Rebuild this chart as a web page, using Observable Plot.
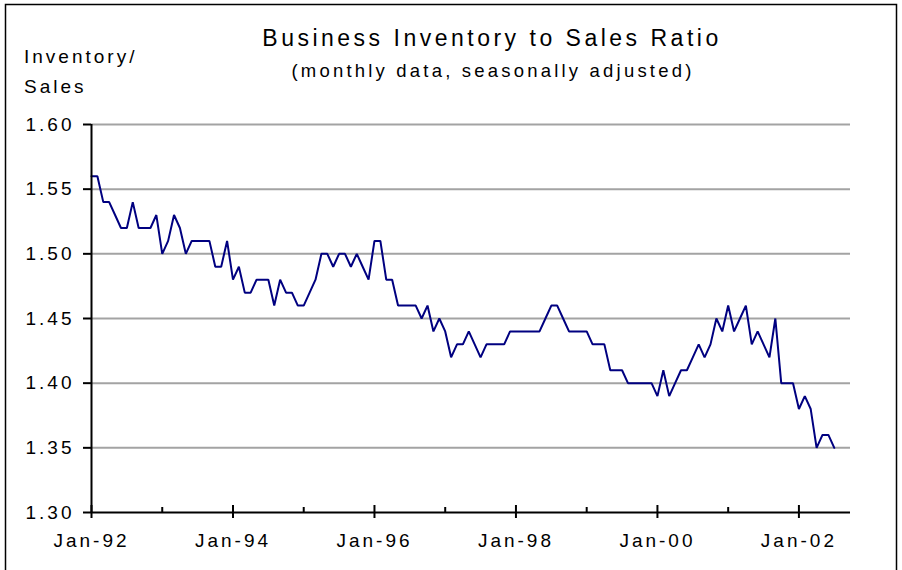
<!DOCTYPE html>
<html>
<head>
<meta charset="utf-8">
<script src="https://cdn.jsdelivr.net/npm/d3@7"></script>
<script src="https://cdn.jsdelivr.net/npm/@observablehq/plot@0.6"></script>
<style>
  html, body { margin: 0; padding: 0; background: #fff; }
  #chart svg { display: block; }
</style>
</head>
<body>
<div id="chart"></div>
<script>
// Monthly inventory/sales ratio, Jan-92 .. Jul-02
const ratio1992 = [1.56, 1.56, 1.54, 1.54, 1.53, 1.52, 1.52, 1.54, 1.52, 1.52, 1.52, 1.53];
const ratio1993 = [1.50, 1.51, 1.53, 1.52, 1.50, 1.51, 1.51, 1.51, 1.51, 1.49, 1.49, 1.51];
const ratio1994 = [1.48, 1.49, 1.47, 1.47, 1.48, 1.48, 1.48, 1.46, 1.48, 1.47, 1.47, 1.46];
const ratio1995 = [1.46, 1.47, 1.48, 1.50, 1.50, 1.49, 1.50, 1.50, 1.49, 1.50, 1.49, 1.48];
const ratio1996 = [1.51, 1.51, 1.48, 1.48, 1.46, 1.46, 1.46, 1.46, 1.45, 1.46, 1.44, 1.45];
const ratio1997 = [1.44, 1.42, 1.43, 1.43, 1.44, 1.43, 1.42, 1.43, 1.43, 1.43, 1.43, 1.44];
const ratio1998 = [1.44, 1.44, 1.44, 1.44, 1.44, 1.45, 1.46, 1.46, 1.45, 1.44, 1.44, 1.44];
const ratio1999 = [1.44, 1.43, 1.43, 1.43, 1.41, 1.41, 1.41, 1.40, 1.40, 1.40, 1.40, 1.40];
const ratio2000 = [1.39, 1.41, 1.39, 1.40, 1.41, 1.41, 1.42, 1.43, 1.42, 1.43, 1.45, 1.44];
const ratio2001 = [1.46, 1.44, 1.45, 1.46, 1.43, 1.44, 1.43, 1.42, 1.45, 1.40, 1.40, 1.40];
const ratio2002 = [1.38, 1.39, 1.38, 1.35, 1.36, 1.36, 1.35];

const xTickLabels = ["Jan-92", "Jan-94", "Jan-96", "Jan-98", "Jan-00", "Jan-02"];
const xMajorTicks = [0, 24, 48, 72, 96, 120];      // month index of each label
const xMinorTicks = [12, 36, 60, 84, 108];          // Jan of odd years
const yTicks = [1.30, 1.35, 1.40, 1.45, 1.50, 1.55, 1.60];

const titleText = "Business Inventory to Sales Ratio";
const subtitleText = "(monthly data, seasonally adjusted)";
const yLabelLines = ["Inventory/", "Sales"];

const values = [].concat(ratio1992, ratio1993, ratio1994, ratio1995, ratio1996,
  ratio1997, ratio1998, ratio1999, ratio2000, ratio2001, ratio2002);
const data = values.map((v, i) => ({month: i, ratio: v}));

const W = 902, H = 570;
const mTop = 124, mBottom = 58, mLeft = 91, mRight = 52;
const frameH = H - mTop - mBottom;

const plot = Plot.plot({
  width: W,
  height: H,
  marginTop: mTop,
  marginBottom: mBottom,
  marginLeft: mLeft,
  marginRight: mRight,
  style: {
    fontFamily: "'Liberation Sans', Arial, sans-serif",
    fontSize: "19px",
    letterSpacing: "3px",
    color: "#000",
    background: "#fff",
    overflow: "visible"
  },
  x: {domain: [0, 128.75], axis: null},
  y: {domain: [1.30, 1.60], axis: null},
  marks: [
    Plot.ruleY(yTicks.filter(d => d > 1.30), {stroke: "#a3a3a3", strokeWidth: 2}),
    Plot.line(data, {x: "month", y: "ratio", stroke: "#000080", strokeWidth: 2, strokeLinejoin: "miter"}),
    Plot.ruleX([0], {stroke: "#000", strokeWidth: 2}),
    Plot.ruleY([1.30], {stroke: "#000", strokeWidth: 2}),
    Plot.axisY({
      ticks: yTicks,
      label: null,
      tickSize: 8,
      tickPadding: 9,
      strokeWidth: 2,
      tickFormat: d => d.toFixed(2),
      fontSize: 19
    }),
    // major x ticks crossing the axis
    Plot.ruleX(xMajorTicks, {stroke: "#000", strokeWidth: 2, insetTop: frameH - 7, insetBottom: -6}),
    // minor x ticks above the axis
    Plot.ruleX(xMinorTicks, {stroke: "#000", strokeWidth: 2, insetTop: frameH - 5}),
    Plot.axisX({
      ticks: xMajorTicks,
      label: null,
      tickSize: 0,
      tickPadding: 21,
      tickFormat: d => xTickLabels[xMajorTicks.indexOf(d)],
      fontSize: 19
    })
  ]
});

const svg = d3.select(plot);

// outer frame
svg.append("path")
  .attr("d", `M5.5,${H + 5} V4.5 H896.5 V${H + 5}`)
  .attr("fill", "none")
  .attr("stroke", "#000")
  .attr("stroke-width", 1.5);

svg.append("text")
  .attr("x", 492).attr("y", 46)
  .attr("text-anchor", "middle")
  .style("font-size", "23px")
  .style("letter-spacing", "3.5px")
  .text(titleText);

svg.append("text")
  .attr("x", 493).attr("y", 77)
  .attr("text-anchor", "middle")
  .style("font-size", "18.5px")
  .style("letter-spacing", "3.2px")
  .text(subtitleText);

yLabelLines.forEach((t, i) => {
  svg.append("text")
    .attr("x", 24).attr("y", 63 + i * 30)
    .attr("text-anchor", "start")
    .style("font-size", "19px")
    .style("letter-spacing", "3px")
    .text(t);
});

document.getElementById("chart").appendChild(plot);
</script>
</body>
</html>
